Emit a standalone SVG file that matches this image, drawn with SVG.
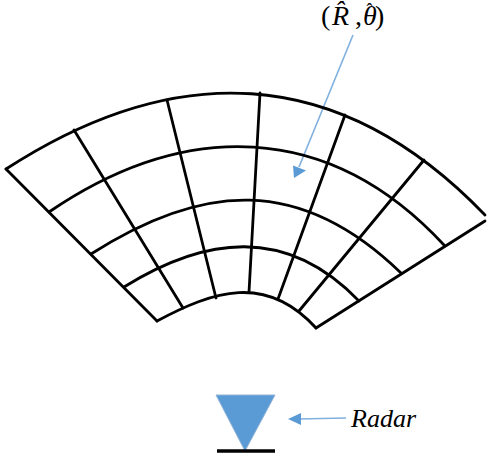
<svg xmlns="http://www.w3.org/2000/svg" width="487" height="462" viewBox="0 0 487 462">
<style>
.g{fill:none;stroke:#000;stroke-width:2.800;stroke-linecap:round;stroke-linejoin:round}
.a{stroke:#7fb0de;stroke-width:1.600;fill:none}
.h{fill:#5b9bd5}
.t{font-family:"Liberation Serif","Times New Roman",serif;font-size:26px;fill:#000}
.l{font-size:28px}
.i{font-style:italic}
</style>
<rect width="487" height="462" fill="#fff"/>
<g id="connectors">
<path class="a" d="M353 35L299 167"/>
<path class="h" d="M294 178L293 165.500L306 170.500Z"/>
<path class="a" d="M346 418L298 419"/>
<path class="h" d="M288 419L301 413V425Z"/>
</g>
<g id="grid">
<path class="g" d="M6 169C171 62 336 60 485 215"/>
<path class="g" d="M49 212C184 120 328 120 444 245"/>
<path class="g" d="M91 254C202 183 300 175 401 273"/>
<path class="g" d="M124 287C204.500 237 286 225 359 301"/>
<path class="g" d="M157 321C213 291 266 273 316 328"/>
<path class="g" d="M6 169L157 321"/>
<path class="g" d="M485 221L316 328"/>
<path class="g" d="M74 130L183 308"/>
<path class="g" d="M167 100L216 298"/>
<path class="g" d="M260 93L249 292"/>
<path class="g" d="M345 115L278 299"/>
<path class="g" d="M424 160L299 311"/>
</g>
<g id="radar">
<path d="M216 395H275L245 451Z" fill="#5b9bd5" stroke="#8fb4d8" stroke-width="1"/>
<path d="M217 451H275" stroke="#000" stroke-width="3.500" fill="none"/>
<text class="t i" x="351" y="427">Radar</text>
</g>
<g id="label">
<text class="t l" x="321" y="25">(<tspan class="i" x="332">R̂</tspan><tspan x="355">,</tspan><tspan class="i" x="363">θ</tspan><tspan x="366.500" y="16" style="font-size:18px">ˆ</tspan><tspan x="375" y="25">)</tspan></text>
</g>
</svg>
